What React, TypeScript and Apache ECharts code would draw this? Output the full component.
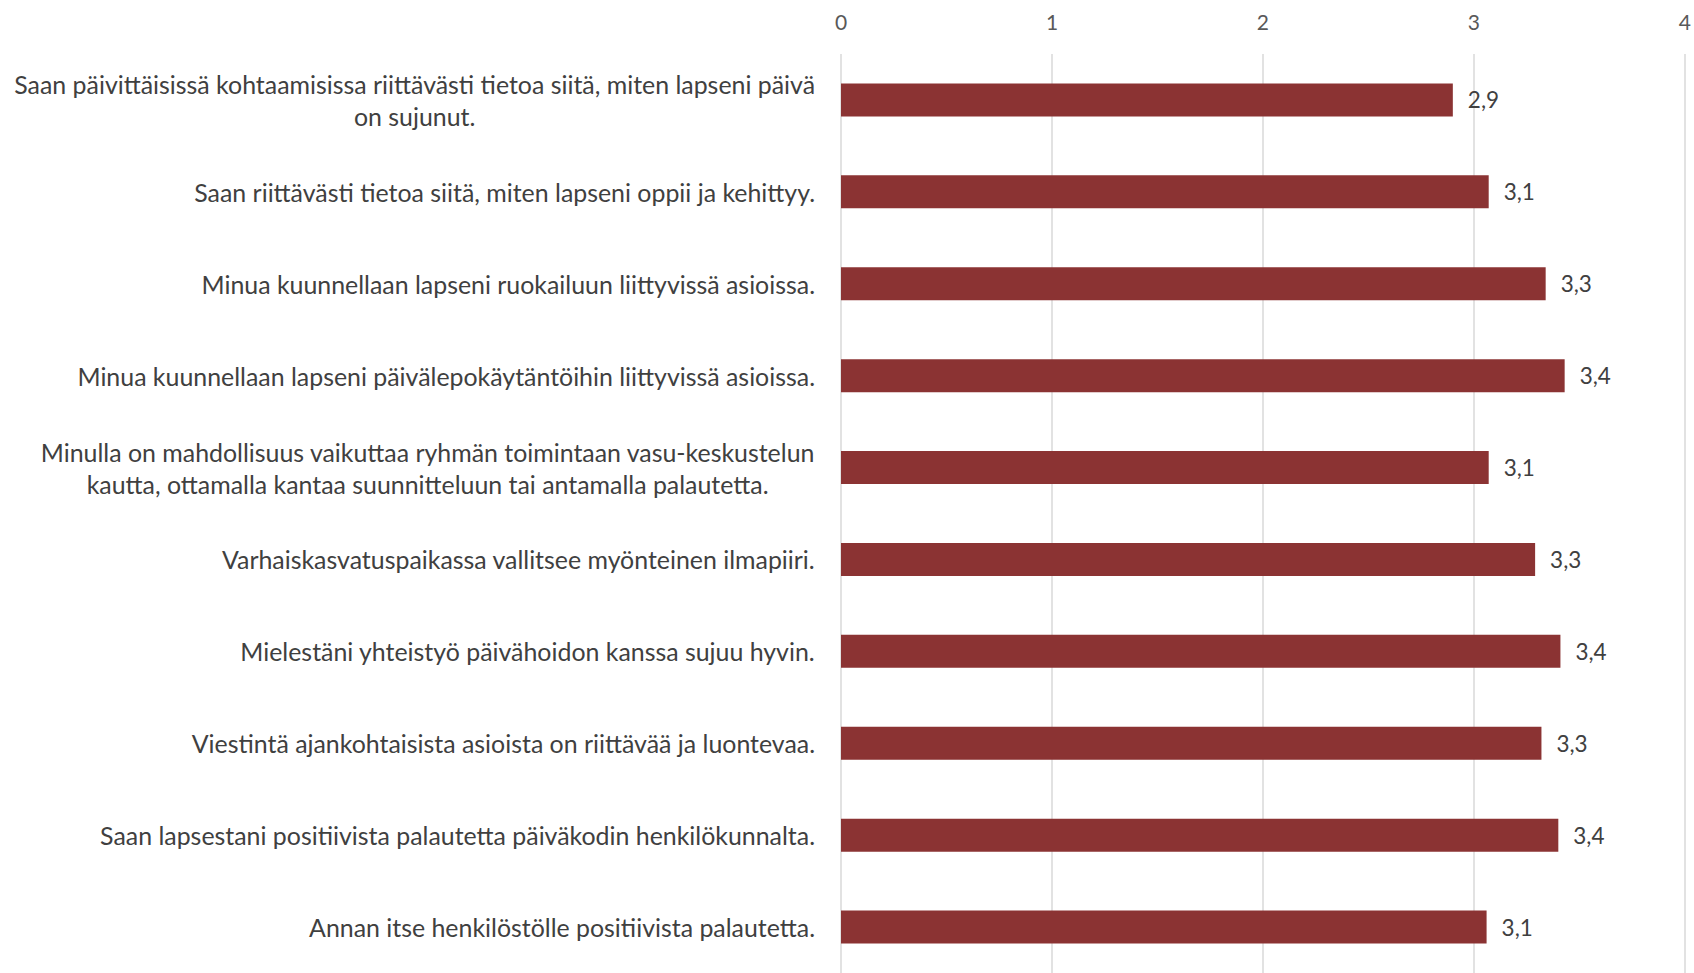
import React, { useEffect, useRef } from "react";
import * as echarts from "echarts";

const categories: string[] = [
  "Saan päivittäisissä kohtaamisissa riittävästi tietoa siitä, miten lapseni päivä\non sujunut.",
  "Saan riittävästi tietoa siitä, miten lapseni oppii ja kehittyy.",
  "Minua kuunnellaan lapseni ruokailuun liittyvissä asioissa.",
  "Minua kuunnellaan lapseni päivälepokäytäntöihin liittyvissä asioissa.",
  "Minulla on mahdollisuus vaikuttaa ryhmän toimintaan vasu-keskustelun\nkautta, ottamalla kantaa suunnitteluun tai antamalla palautetta.",
  "Varhaiskasvatuspaikassa vallitsee myönteinen ilmapiiri.",
  "Mielestäni yhteistyö päivähoidon kanssa sujuu hyvin.",
  "Viestintä ajankohtaisista asioista on riittävää ja luontevaa.",
  "Saan lapsestani positiivista palautetta päiväkodin henkilökunnalta.",
  "Annan itse henkilöstölle positiivista palautetta.",
];

const values: number[] = [2.9, 3.07, 3.34, 3.43, 3.07, 3.29, 3.41, 3.32, 3.4, 3.06];

const axisMin = 0;
const axisMax = 4;
const axisInterval = 1;

const FONT = "Lato, 'Open Sans', sans-serif";

export default function App() {
  const ref = useRef<HTMLDivElement>(null);
  useEffect(() => {
    document.body.style.margin = "0";
    if (!ref.current) return;
    const chart = echarts.init(ref.current, undefined, { renderer: "svg" });
    chart.setOption({
      animation: false,
      backgroundColor: "#ffffff",
      grid: { left: 841, right: 8, top: 54, bottom: -4, containLabel: false },
      xAxis: {
        type: "value",
        position: "top",
        min: axisMin,
        max: axisMax,
        interval: axisInterval,
        axisLine: { show: false },
        axisTick: { show: false },
        splitLine: { show: true, lineStyle: { color: "#d9d9d9", width: 1.5 } },
        axisLabel: {
          color: "#595959",
          fontFamily: FONT,
          fontSize: 21,
          margin: 22,
        },
      },
      yAxis: {
        type: "category",
        inverse: true,
        data: categories,
        axisLine: { show: false },
        axisTick: { show: false },
        axisLabel: {
          margin: 26,
          align: "right",
          formatter: (v: string) =>
            v
              .split("\n")
              .map((l) => `{c|${l}}`)
              .join("\n"),
          rich: {
            c: {
              align: "center",
              color: "#404040",
              fontFamily: FONT,
              fontSize: 24.9,
              lineHeight: 32,
            },
          },
        },
      },
      series: [
        {
          type: "bar",
          data: values,
          barWidth: 33,
          itemStyle: { color: "#8B3333" },
          label: {
            show: true,
            position: "right",
            distance: 15,
            color: "#404040",
            fontFamily: FONT,
            fontSize: 22.5,
            formatter: (p: any) => (p.value as number).toFixed(1).replace(".", ","),
          },
        },
      ],
    });
    return () => chart.dispose();
  }, []);
  return <div ref={ref} style={{ width: 1694, height: 973 }} />;
}
